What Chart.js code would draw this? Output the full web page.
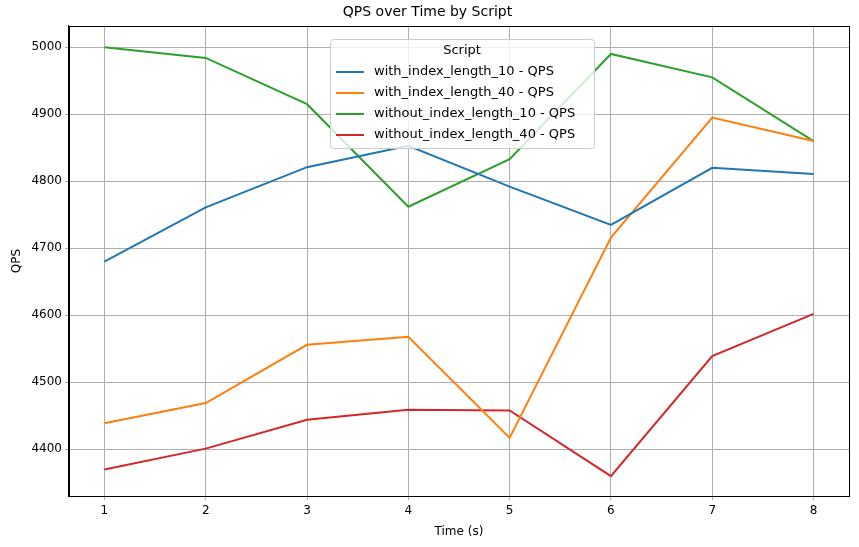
<!DOCTYPE html>
<html>
<head>
<meta charset="utf-8">
<script src="https://cdn.jsdelivr.net/npm/chart.js@4"></script>
<style>
  body { margin: 0; background: #fff; }
  #wrap { width: 859px; height: 547px; }
</style>
</head>
<body>
<div id="wrap"><canvas id="canvas"></canvas></div>
<script>
const times = [1, 2, 3, 4, 5, 6, 7, 8];
const withIdx10 = [4680, 4761, 4821, 4853, 4792, 4735, 4820, 4811];
const withIdx40 = [4439, 4469, 4556, 4568, 4417, 4716, 4895, 4860];
const withoutIdx10 = [5000, 4984, 4915, 4762, 4833, 4990, 4955, 4860];
const withoutIdx40 = [4370, 4401, 4444, 4459, 4458, 4360, 4539, 4602];
const yTicks = [4400, 4500, 4600, 4700, 4800, 4900, 5000];

const names = ['with_index_length_10 - QPS', 'with_index_length_40 - QPS',
  'without_index_length_10 - QPS', 'without_index_length_40 - QPS'];
const colors = ['#1f77b4', '#ff7f0e', '#2ca02c', '#d62728'];
const series = [withIdx10, withIdx40, withoutIdx10, withoutIdx40];

// matplotlib-style legend box and axes frame
const boxLegend = {
  id: 'boxLegend',
  afterDraw(chart) {
    const c = chart.ctx;
    const a = chart.chartArea;
    c.save();
    c.strokeStyle = '#000';
    c.lineWidth = 1;
    c.strokeRect(Math.round(a.left) + 0.5, Math.round(a.top) + 0.5,
      Math.round(a.right - a.left), Math.round(a.bottom - a.top));
    const x = 330, y = 39, w = 264, h = 109;
    c.fillStyle = 'rgba(255,255,255,0.8)';
    c.strokeStyle = '#cccccc';
    c.beginPath();
    c.roundRect(x + 0.5, y + 0.5, w, h, 3);
    c.fill(); c.stroke();
    c.font = '13px "DejaVu Sans"';
    c.fillStyle = '#000';
    c.textBaseline = 'middle';
    c.textAlign = 'center';
    c.fillText('Script', x + w / 2, y + 12);
    c.textAlign = 'left';
    names.forEach((n, i) => {
      const ly = y + 33 + i * 21;
      c.strokeStyle = colors[i];
      c.lineWidth = 2;
      c.beginPath();
      c.moveTo(x + 6, ly); c.lineTo(x + 34, ly); c.stroke();
      c.fillText(n, x + 44, ly);
    });
    c.restore();
  }
};

new Chart(document.getElementById('canvas'), {
  type: 'line',
  data: {
    datasets: series.map((s, i) => ({
      label: names[i],
      data: times.map((t, j) => ({ x: t, y: s[j] })),
      borderColor: colors[i],
      backgroundColor: colors[i],
      borderWidth: 2,
      pointRadius: 0,
      tension: 0
    }))
  },
  options: {
    responsive: true,
    maintainAspectRatio: false,
    animation: false,
    layout: { padding: { left: 6, right: 10, top: 0, bottom: 4 } },
    plugins: {
      legend: { display: false },
      tooltip: { enabled: false },
      title: {
        display: true, text: 'QPS over Time by Script', color: '#000',
        font: { family: 'DejaVu Sans', size: 14, weight: 'normal' },
        padding: { top: 4, bottom: 5 }
      }
    },
    scales: {
      x: {
        type: 'linear', min: 0.65, max: 8.35,
        afterBuildTicks: ax => { ax.ticks = times.map(v => ({ value: v })); },
        grid: { color: '#b0b0b0', tickLength: 4 },
        border: { color: '#000' },
        ticks: { color: '#000', font: { family: 'DejaVu Sans', size: 12 }, maxRotation: 0 },
        title: { display: true, text: 'Time (s)', color: '#000', font: { family: 'DejaVu Sans', size: 12 } }
      },
      y: {
        min: 4330, max: 5032,
        afterBuildTicks: ax => { ax.ticks = yTicks.map(v => ({ value: v })); },
        grid: { color: '#b0b0b0', tickLength: 4 },
        border: { color: '#000' },
        ticks: { color: '#000', font: { family: 'DejaVu Sans', size: 12 }, callback: v => String(v) },
        title: { display: true, text: 'QPS', color: '#000', font: { family: 'DejaVu Sans', size: 12 } }
      }
    }
  },
  plugins: [boxLegend]
});
</script>
</body>
</html>
